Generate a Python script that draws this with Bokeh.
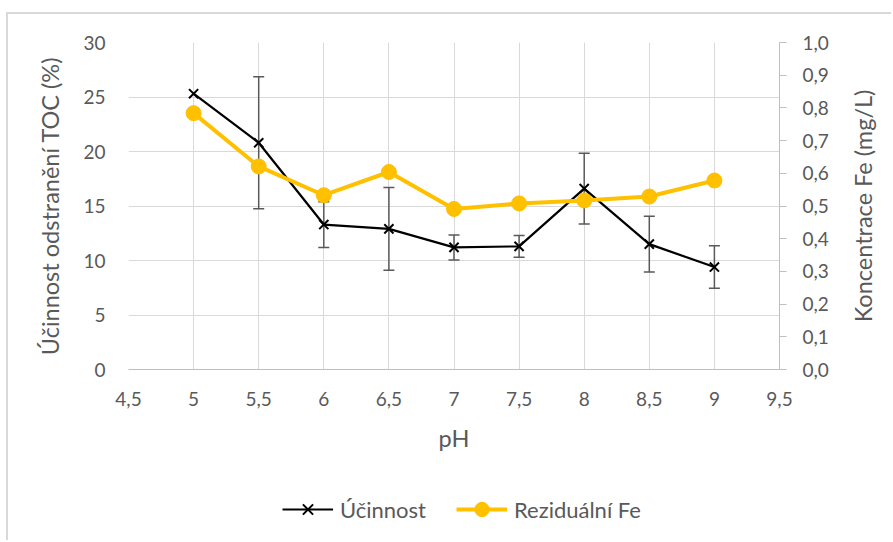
from bokeh.plotting import figure
from bokeh.layouts import column, row
from bokeh.models import (Range1d, LinearAxis, FixedTicker, CustomJSTickFormatter,
                          ColumnDataSource, Whisker, TeeHead, Legend, LegendItem)
from bokeh.embed import file_html
from bokeh.resources import INLINE

# pH series and measured values
ph = [5, 5.5, 6, 6.5, 7, 7.5, 8, 8.5, 9]
ucinnost = [25.3, 20.8, 13.3, 12.9, 11.2, 11.3, 16.6, 11.5, 9.4]
ucinnost_sd = [0.0, 6.05, 2.1, 3.8, 1.15, 1.0, 3.25, 2.55, 1.95]
rezidualni_fe = [0.784, 0.621, 0.533, 0.604, 0.491, 0.508, 0.517, 0.529, 0.578]

x_ticks = [4.5, 5, 5.5, 6, 6.5, 7, 7.5, 8, 8.5, 9, 9.5]
left_ticks = [0, 5, 10, 15, 20, 25, 30]
right_ticks = [0.0, 0.1, 0.2, 0.3, 0.4, 0.5, 0.6, 0.7, 0.8, 0.9, 1.0]

series_names = ["Účinnost", "Reziduální Fe"]

FONT = "Lato"
TXT = "#595959"
GRID = "#d9d9d9"
AXIS = "#bfbfbf"
BLACK = "black"
GOLD = "#ffc000"
TITLE_SIZE = "23.5px"

# ---- main chart -------------------------------------------------------------
p = figure(width=837, height=460, output_backend="svg", toolbar_location=None,
           x_range=Range1d(4.5, 9.5), y_range=Range1d(0, 30),
           min_border_left=120, min_border_right=66,
           min_border_top=28, min_border_bottom=105)
p.outline_line_color = None
p.background_fill_color = "white"
p.border_fill_color = "white"

p.extra_y_ranges = {"fe": Range1d(0, 1)}

# bottom axis (pH)
xa = p.xaxis[0]
xa.ticker = FixedTicker(ticks=x_ticks)
xa.formatter = CustomJSTickFormatter(code="return (Math.round(tick*10)/10).toString().replace('.', ',');")
xa.axis_label = "pH"
xa.axis_line_color = AXIS
xa.major_tick_line_color = None
xa.minor_tick_line_color = None
xa.major_tick_out = 0
xa.major_label_standoff = 22
xa.axis_label_standoff = 15

# left axis
ya = p.yaxis[0]
ya.ticker = FixedTicker(ticks=left_ticks)
ya.axis_label = "Účinnost odstranění TOC (%)"
ya.axis_line_color = None
ya.major_tick_line_color = None
ya.minor_tick_line_color = None
ya.major_tick_out = 0
ya.major_label_standoff = 23
ya.axis_label_standoff = 16

# right axis (iron concentration); its title sits in the strip to the right
ra = LinearAxis(y_range_name="fe", ticker=FixedTicker(ticks=right_ticks),
                formatter=CustomJSTickFormatter(code="return tick.toFixed(1).replace('.', ',');"))
ra.axis_line_color = AXIS
ra.major_tick_line_color = AXIS
ra.major_tick_out = 7
ra.major_tick_in = 0
ra.minor_tick_line_color = None
ra.major_label_standoff = 16
p.add_layout(ra, "right")

for ax in (xa, ya, ra):
    ax.major_label_text_font = FONT
    ax.major_label_text_font_size = "19px"
    ax.major_label_text_color = TXT
    ax.axis_label_text_font = FONT
    ax.axis_label_text_font_size = TITLE_SIZE
    ax.axis_label_text_font_style = "normal"
    ax.axis_label_text_color = TXT

p.xgrid.ticker = FixedTicker(ticks=x_ticks)
p.ygrid.ticker = FixedTicker(ticks=left_ticks)
for g in (p.xgrid[0], p.ygrid[0]):
    g.grid_line_color = GRID
    g.grid_line_width = 1

# error bars of removal efficiency
err_src = ColumnDataSource(dict(
    x=[x for x, s in zip(ph, ucinnost_sd) if s > 0],
    lower=[v - s for v, s in zip(ucinnost, ucinnost_sd) if s > 0],
    upper=[v + s for v, s in zip(ucinnost, ucinnost_sd) if s > 0],
))
whisker = Whisker(source=err_src, base="x", lower="lower", upper="upper",
                  line_color="#595959", line_width=1.5, level="underlay",
                  lower_head=TeeHead(size=11, line_color="#595959", line_width=1.5),
                  upper_head=TeeHead(size=11, line_color="#595959", line_width=1.5))
p.add_layout(whisker)

src = ColumnDataSource(dict(ph=ph, u=ucinnost, fe=rezidualni_fe))

p.line("ph", "u", source=src, line_color=BLACK, line_width=2.2)
p.scatter("ph", "u", source=src, marker="x", size=13, line_color=BLACK, line_width=2)

p.line("ph", "fe", source=src, line_color=GOLD, line_width=4, y_range_name="fe")
p.scatter("ph", "fe", source=src, marker="circle", size=15, fill_color=GOLD,
          line_color=GOLD, y_range_name="fe")

# ---- right-hand title strip (reads bottom to top, centred on the plot area) --
tfig = figure(width=48, height=460, output_backend="svg", toolbar_location=None,
              x_range=Range1d(0, 1), y_range=Range1d(0, 1),
              x_axis_location=None, y_axis_location="left",
              min_border_left=40, min_border_right=4,
              min_border_top=28, min_border_bottom=105)
tfig.grid.visible = False
tfig.outline_line_color = None
tfig.background_fill_color = "white"
tfig.border_fill_color = "white"
ta = tfig.yaxis[0]
ta.ticker = FixedTicker(ticks=[])
ta.axis_line_color = None
ta.major_tick_line_color = None
ta.minor_tick_line_color = None
ta.major_tick_out = 0
ta.major_tick_in = 0
ta.major_label_text_font_size = "0px"
ta.major_label_standoff = 0
ta.axis_label = "Koncentrace Fe (mg/L)"
ta.axis_label_standoff = 13
ta.axis_label_text_font = FONT
ta.axis_label_text_font_size = TITLE_SIZE
ta.axis_label_text_font_style = "normal"
ta.axis_label_text_color = TXT

# ---- legend strip under the chart ------------------------------------------
leg = figure(width=837, height=68, output_backend="svg", toolbar_location=None,
             x_range=Range1d(0, 1), y_range=Range1d(0, 1),
             x_axis_location=None, y_axis_location=None,
             min_border_left=120, min_border_right=66, min_border_top=0, min_border_bottom=0)
leg.grid.visible = False
leg.outline_line_color = None
leg.background_fill_color = "white"
leg.border_fill_color = "white"

# legend keys: one point each, kept outside the strip's visible range
key = ColumnDataSource(dict(x=[-10], y=[-10]))
k1 = leg.line("x", "y", source=key, line_color=BLACK, line_width=2.2)
k2 = leg.scatter("x", "y", source=key, marker="x", size=13, line_color=BLACK, line_width=2)
k3 = leg.line("x", "y", source=key, line_color=GOLD, line_width=4)
k4 = leg.scatter("x", "y", source=key, marker="circle", size=15, fill_color=GOLD, line_color=GOLD)

legend = Legend(items=[LegendItem(label=series_names[0], renderers=[k1, k2]),
                       LegendItem(label=series_names[1], renderers=[k3, k4])],
                location=(154, 15), orientation="horizontal", margin=0,
                glyph_width=51, glyph_height=36, label_standoff=7, spacing=30,
                padding=0, border_line_color=None, background_fill_alpha=0,
                label_text_font=FONT, label_text_font_size="22px", label_text_color=TXT)
leg.add_layout(legend, "center")

layout = row(column(p, leg, spacing=0), tfig, spacing=0)
layout.margin = (14, 0, 0, 8)
layout.styles = {"box-shadow": "-2px -2px 0 0 #d9d9d9"}

open("out.html", "w").write(file_html(layout, INLINE))
